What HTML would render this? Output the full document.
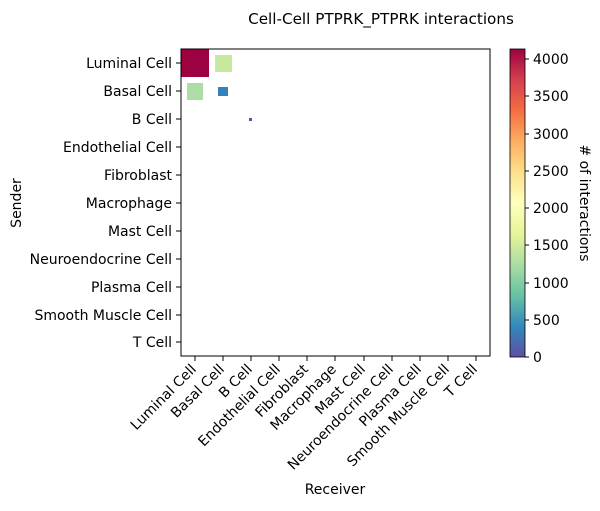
<!DOCTYPE html>
<html><head><meta charset="utf-8"><style>body{margin:0;background:#fff}</style></head>
<body>
<svg width="600" height="506" xmlns="http://www.w3.org/2000/svg" font-family="DejaVu Sans, Liberation Sans, sans-serif" font-size="14">
<defs>
<linearGradient id="sp" x1="0" y1="1" x2="0" y2="0">
<stop offset="0" stop-color="#5e4fa2"/>
<stop offset="0.1" stop-color="#3288bd"/>
<stop offset="0.2" stop-color="#66c2a5"/>
<stop offset="0.3" stop-color="#abdda4"/>
<stop offset="0.4" stop-color="#e6f598"/>
<stop offset="0.5" stop-color="#ffffbf"/>
<stop offset="0.6" stop-color="#fee08b"/>
<stop offset="0.7" stop-color="#fdae61"/>
<stop offset="0.8" stop-color="#f46d43"/>
<stop offset="0.9" stop-color="#d53e4f"/>
<stop offset="1" stop-color="#9e0142"/>
</linearGradient>
</defs>
<text x="381" y="24" text-anchor="middle" font-size="15.2">Cell-Cell PTPRK_PTPRK interactions</text>
<rect x="181" y="49" width="28" height="28" fill="#9e0142"/>
<rect x="215" y="55" width="17" height="17" fill="#c7e89e"/>
<rect x="187" y="83" width="16" height="17" fill="#abdda4"/>
<rect x="218" y="87" width="10" height="9" fill="#3582bb"/>
<rect x="249" y="118" width="3" height="3" fill="#5e4fa2"/>
<rect x="181" y="49" width="309" height="307" fill="none" stroke="#000" stroke-width="1"/>
<g stroke="#000">
<line x1="176" x2="181" y1="63" y2="63"/><line x1="176" x2="181" y1="91" y2="91"/><line x1="176" x2="181" y1="119" y2="119"/><line x1="176" x2="181" y1="147" y2="147"/><line x1="176" x2="181" y1="175" y2="175"/><line x1="176" x2="181" y1="203" y2="203"/><line x1="176" x2="181" y1="231" y2="231"/><line x1="176" x2="181" y1="259" y2="259"/><line x1="176" x2="181" y1="287" y2="287"/><line x1="176" x2="181" y1="315" y2="315"/><line x1="176" x2="181" y1="342" y2="342"/>
<line y1="356" y2="361" x1="195" x2="195"/><line y1="356" y2="361" x1="223" x2="223"/><line y1="356" y2="361" x1="251" x2="251"/><line y1="356" y2="361" x1="279" x2="279"/><line y1="356" y2="361" x1="307" x2="307"/><line y1="356" y2="361" x1="335" x2="335"/><line y1="356" y2="361" x1="364" x2="364"/><line y1="356" y2="361" x1="392" x2="392"/><line y1="356" y2="361" x1="420" x2="420"/><line y1="356" y2="361" x1="448" x2="448"/><line y1="356" y2="361" x1="476" x2="476"/>
</g>
<g text-anchor="end">
<text x="172" y="68">Luminal Cell</text><text x="172" y="96">Basal Cell</text><text x="172" y="124">B Cell</text><text x="172" y="152">Endothelial Cell</text><text x="172" y="180">Fibroblast</text><text x="172" y="208">Macrophage</text><text x="172" y="236">Mast Cell</text><text x="172" y="264">Neuroendocrine Cell</text><text x="172" y="292">Plasma Cell</text><text x="172" y="320">Smooth Muscle Cell</text><text x="172" y="347">T Cell</text>
</g>
<g text-anchor="end">
<text transform="translate(197,370) rotate(-45)">Luminal Cell</text>
<text transform="translate(225,370) rotate(-45)">Basal Cell</text>
<text transform="translate(253,370) rotate(-45)">B Cell</text>
<text transform="translate(281,370) rotate(-45)">Endothelial Cell</text>
<text transform="translate(309,370) rotate(-45)">Fibroblast</text>
<text transform="translate(337,370) rotate(-45)">Macrophage</text>
<text transform="translate(366,370) rotate(-45)">Mast Cell</text>
<text transform="translate(394,370) rotate(-45)">Neuroendocrine Cell</text>
<text transform="translate(422,370) rotate(-45)">Plasma Cell</text>
<text transform="translate(450,370) rotate(-45)">Smooth Muscle Cell</text>
<text transform="translate(478,370) rotate(-45)">T Cell</text>
</g>
<text x="335" y="494" text-anchor="middle">Receiver</text>
<text transform="translate(21,203) rotate(-90)" text-anchor="middle">Sender</text>
<rect x="510" y="49" width="15" height="308" fill="url(#sp)" stroke="#000" stroke-width="0.8"/>
<g stroke="#000">
<line x1="525" x2="529" y1="357" y2="357"/><line x1="525" x2="529" y1="320" y2="320"/><line x1="525" x2="529" y1="283" y2="283"/><line x1="525" x2="529" y1="245" y2="245"/><line x1="525" x2="529" y1="208" y2="208"/><line x1="525" x2="529" y1="171" y2="171"/><line x1="525" x2="529" y1="134" y2="134"/><line x1="525" x2="529" y1="96" y2="96"/><line x1="525" x2="529" y1="59" y2="59"/>
</g>
<g>
<text x="533" y="362">0</text><text x="533" y="325">500</text><text x="533" y="288">1000</text><text x="533" y="250">1500</text><text x="533" y="213">2000</text><text x="533" y="176">2500</text><text x="533" y="139">3000</text><text x="533" y="101">3500</text><text x="533" y="64">4000</text>
</g>
<text transform="translate(580,203) rotate(90)" text-anchor="middle"># of interactions</text>
</svg>
</body></html>
